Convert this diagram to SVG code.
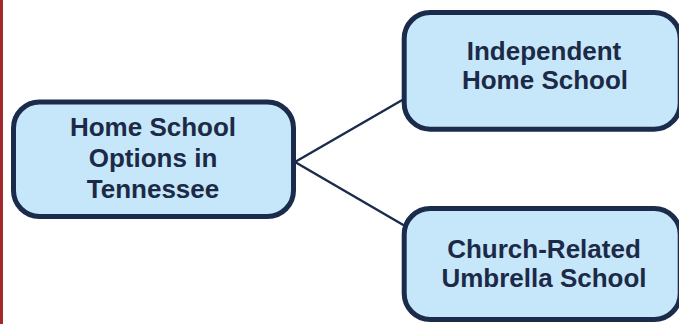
<svg xmlns="http://www.w3.org/2000/svg" width="679" height="324" viewBox="0 0 679 324">
  <style>
    .node rect { fill: #c6e7f9; stroke: #1a2b4c; stroke-width: 5; }
    .node text { font-family: "Liberation Sans", Arial, sans-serif; font-weight: bold; font-size: 26px; fill: #1c2a48; text-anchor: middle; }
    .edges line { stroke: #1a2b4c; stroke-width: 2.4; }
  </style>
  <rect x="0" y="0" width="679" height="324" fill="#ffffff"/>
  <rect x="0" y="0" width="3" height="324" fill="#a3282c"/>
  <g id="edges" class="edges">
    <line x1="295" y1="162" x2="404" y2="99"/>
    <line x1="295" y1="162" x2="405" y2="226"/>
  </g>
  <g id="node-main" class="node">
    <rect x="13.5" y="102" width="280" height="114.5" rx="26" ry="26"/>
    <text x="153" y="136">Home School</text>
    <text x="153" y="167">Options in</text>
    <text x="153" y="198">Tennessee</text>
  </g>
  <g id="node-independent" class="node">
    <rect x="404.2" y="12.5" width="276" height="116.7" rx="26" ry="26"/>
    <text x="544" y="59.5">Independent</text>
    <text x="545" y="89">Home School</text>
  </g>
  <g id="node-church" class="node">
    <rect x="404.2" y="208.5" width="276" height="111" rx="26" ry="26"/>
    <text x="544" y="257.5">Church-Related</text>
    <text x="544" y="286.5">Umbrella School</text>
  </g>
</svg>
